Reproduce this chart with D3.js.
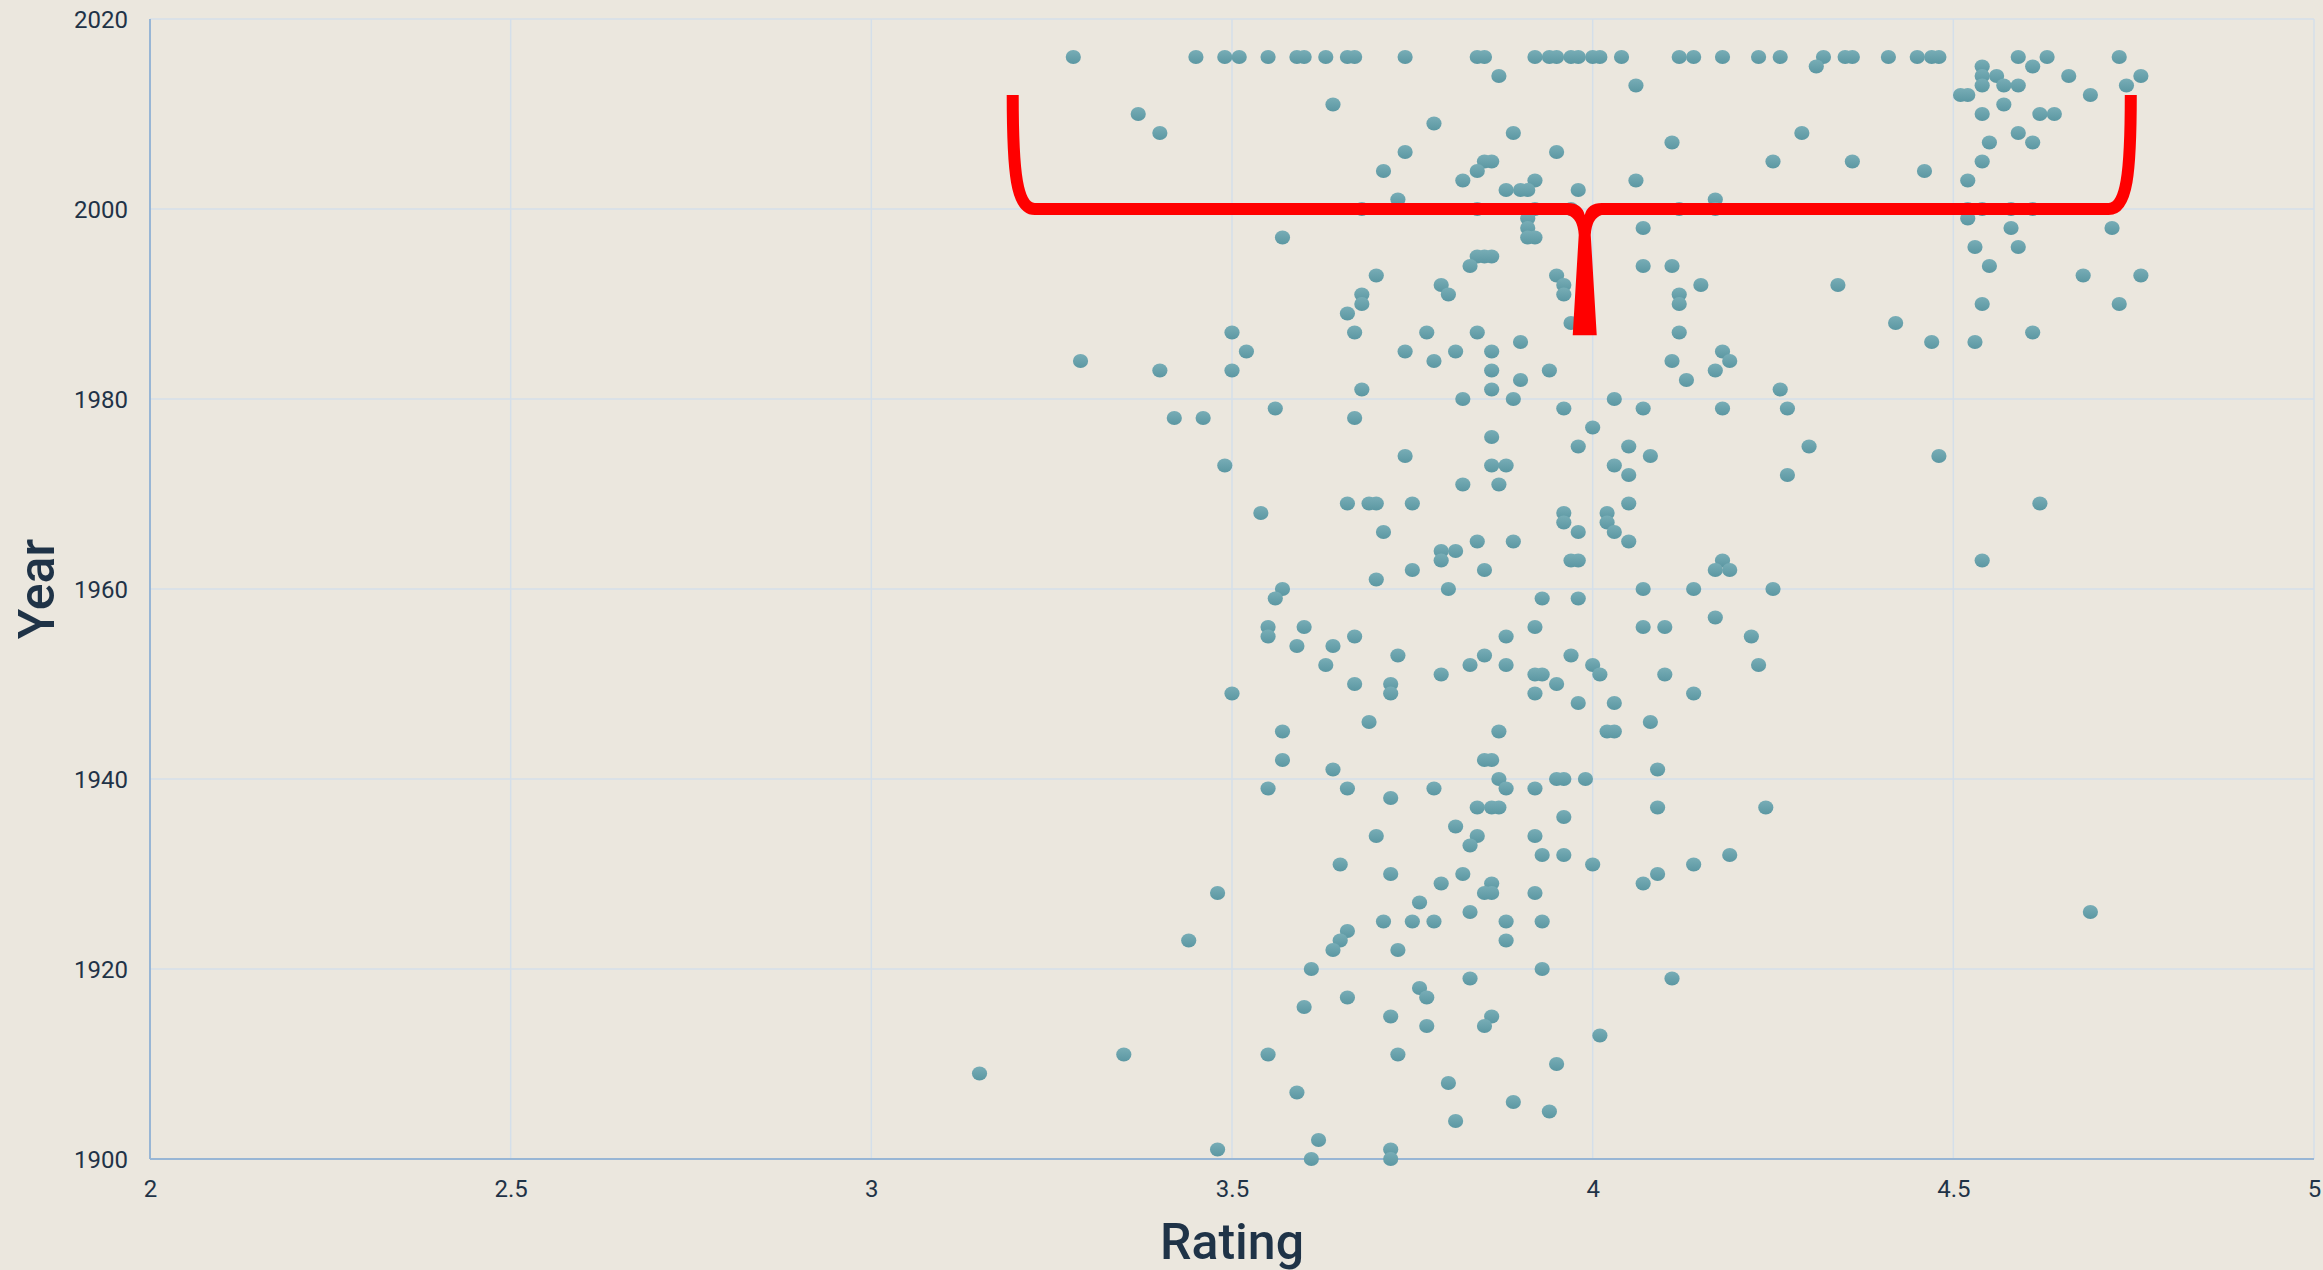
<!DOCTYPE html>
<html><head><meta charset="utf-8">
<script src="https://cdn.jsdelivr.net/npm/d3@7"></script>
<style>
html,body{margin:0;padding:0;background:#ebe7de;}
svg{display:block;}
</style></head><body>
<svg id="chart" width="2323" height="1270"></svg>
<script>
// ---- chart data ----
const xTicks = [2, 2.5, 3, 3.5, 4, 4.5, 5];
const yTicks = [1900, 1920, 1940, 1960, 1980, 2000, 2020];
const xLabel = "Rating";
const yLabel = "Year";

const pointYears = [2016,2015,2014,2013,2012,2011,2010,2009,2008,2007,2006,2005,2004,2003,2002,2001,2000,
  1999,1998,1997,1996,1995,1994,1993,1992,1991,1990,1989,1988,1987,1986,1985,1984,1983,1982,1981,1980,
  1979,1978,1977,1976,1975,1974,1973,1972,1971,1969,1968,1967,1966,1965,1964,1963,1962,1961,1960,
  1959,1957,1956,1955,1954,1953,1952,1951,1950,1949,1948,1946,1945,1942,1941,1940,
  1939,1938,1937,1936,1935,1934,1933,1932,1931,1930,1929,1928,1927,1926,1925,1924,1923,1922,1920,
  1919,1918,1917,1916,1915,1914,1913,1911,1910,1909,1908,1907,1906,1905,1904,1902,1901,1900];

const pointRatings = [
  [3.28,3.45,3.49,3.51,3.55,3.59,3.60,3.63,3.66,3.67,3.74,3.84,3.85,3.92,3.94,3.95,3.97,3.98,4.00,4.01,4.04,4.12,4.14,4.18,4.23,4.26,4.32,4.35,4.36,4.41,4.45,4.47,4.48,4.59,4.63,4.73],
  [4.31,4.54,4.61],
  [3.87,4.54,4.56,4.66,4.76],
  [4.06,4.54,4.57,4.59,4.74],
  [4.51,4.52,4.69],
  [3.64,4.57],
  [3.37,4.54,4.62,4.64],
  [3.78],
  [3.40,3.89,4.29,4.59],
  [4.11,4.55,4.61],
  [3.74,3.95],
  [3.85,3.86,4.25,4.36,4.54],
  [3.71,3.84,4.46],
  [3.82,3.92,4.06,4.52],
  [3.88,3.90,3.91,3.98],
  [3.73,4.17],
  [3.68,3.84,3.92,3.97,4.12,4.17,4.52,4.54,4.58,4.61],
  [3.91,4.52],
  [3.91,4.07,4.58,4.72],
  [3.57,3.91,3.92],
  [4.53,4.59],
  [3.84,3.85,3.86],
  [3.83,4.07,4.11,4.55],
  [3.70,3.95,4.68,4.76],
  [3.79,3.96,4.15,4.34],
  [3.68,3.80,3.96,4.12],
  [3.68,4.12,4.54,4.73],
  [3.66],
  [3.97,4.42],
  [3.50,3.67,3.77,3.84,4.12,4.61],
  [3.90,4.47,4.53],
  [3.52,3.74,3.81,3.86,4.18],
  [3.29,3.78,4.11,4.19],
  [3.40,3.50,3.86,3.94,4.17],
  [3.90,4.13],
  [3.68,3.86,4.26],
  [3.82,3.89,4.03],
  [3.56,3.96,4.07,4.18,4.27],
  [3.42,3.46,3.67],
  [4.00],
  [3.86],
  [3.98,4.05,4.30],
  [3.74,4.08,4.48],
  [3.49,3.86,3.88,4.03],
  [4.05,4.27],
  [3.82,3.87],
  [3.66,3.69,3.70,3.75,4.05,4.62],
  [3.54,3.96,4.02],
  [3.96,4.02],
  [3.71,3.98,4.03],
  [3.84,3.89,4.05],
  [3.79,3.81],
  [3.79,3.97,3.98,4.18,4.54],
  [3.75,3.85,4.17,4.19],
  [3.70],
  [3.57,3.80,4.07,4.14,4.25],
  [3.56,3.93,3.98],
  [4.17],
  [3.55,3.60,3.92,4.07,4.10],
  [3.55,3.67,3.88,4.22],
  [3.59,3.64],
  [3.73,3.85,3.97],
  [3.63,3.83,3.88,4.00,4.23],
  [3.79,3.92,3.93,4.01,4.10],
  [3.67,3.72,3.95],
  [3.50,3.72,3.92,4.14],
  [3.98,4.03],
  [3.69,4.08],
  [3.57,3.87,4.02,4.03],
  [3.57,3.85,3.86],
  [3.64,4.09],
  [3.87,3.95,3.96,3.99],
  [3.55,3.66,3.78,3.88,3.92],
  [3.72],
  [3.84,3.86,3.87,4.09,4.24],
  [3.96],
  [3.81],
  [3.70,3.84,3.92],
  [3.83],
  [3.93,3.96,4.19],
  [3.65,4.00,4.14],
  [3.72,3.82,4.09],
  [3.79,3.86,4.07],
  [3.48,3.85,3.86,3.92],
  [3.76],
  [3.83,4.69],
  [3.71,3.75,3.78,3.88,3.93],
  [3.66],
  [3.44,3.65,3.88],
  [3.64,3.73],
  [3.61,3.93],
  [3.83,4.11],
  [3.76],
  [3.66,3.77],
  [3.60],
  [3.72,3.86],
  [3.77,3.85],
  [4.01],
  [3.35,3.55,3.73],
  [3.95],
  [3.15],
  [3.80],
  [3.59],
  [3.89],
  [3.94],
  [3.81],
  [3.62],
  [3.48,3.72],
  [3.61,3.72]
];

// red brace annotation (data units)
const braceArmRatings = [3.196, 4.746];
const braceArmTopYear = 2012;
const braceLevelYear = 2000;
const braceTipRating = 3.989;
const braceTipYear = 1986.7;

// ---- drawing ----
const W = 2323, H = 1270;
const margin = {left: 150, right: 9, top: 19, bottom: 111};
const svg = d3.select("#chart");
const x = d3.scaleLinear().domain([2, 5]).range([margin.left, W - margin.right]);
const y = d3.scaleLinear().domain([1900, 2020]).range([H - margin.bottom, margin.top]);

const textColor = "#1f3347";
const gridColor = "#d4dfea";
const axisColor = "#98b6d5";

const defs = svg.append("defs");
const grad = defs.append("linearGradient").attr("id", "dotGrad")
  .attr("x1", "0").attr("y1", "0").attr("x2", "0").attr("y2", "1");
grad.append("stop").attr("offset", "0%").attr("stop-color", "#78adb6");
grad.append("stop").attr("offset", "100%").attr("stop-color", "#5b97a2");

// grid
svg.append("g").selectAll("line").data(xTicks).join("line")
  .attr("x1", d => x(d)).attr("x2", d => x(d))
  .attr("y1", y(2020)).attr("y2", y(1900))
  .attr("stroke", gridColor).attr("stroke-width", 1.5);
svg.append("g").selectAll("line").data(yTicks).join("line")
  .attr("x1", x(2)).attr("x2", x(5))
  .attr("y1", d => y(d)).attr("y2", d => y(d))
  .attr("stroke", gridColor).attr("stroke-width", 1.5);

// axes lines
svg.append("line").attr("x1", x(2)).attr("x2", x(2)).attr("y1", y(2020)).attr("y2", y(1900))
  .attr("stroke", axisColor).attr("stroke-width", 2);
svg.append("line").attr("x1", x(2)).attr("x2", x(5)).attr("y1", y(1900)).attr("y2", y(1900))
  .attr("stroke", axisColor).attr("stroke-width", 2);

// axes with d3 (labels only)
const xAxis = d3.axisBottom(x).tickValues(xTicks).tickSize(0).tickPadding(0).tickFormat(d3.format("~g"));
const gx = svg.append("g").attr("transform", `translate(0,${y(1900)})`).call(xAxis);
gx.select(".domain").remove();
gx.selectAll("text").attr("dy", null).attr("y", 38)
  .attr("font-family", "Roboto, 'Liberation Sans', sans-serif").attr("font-size", 24).attr("fill", textColor);

const yAxis = d3.axisLeft(y).tickValues(yTicks).tickSize(0).tickPadding(0).tickFormat(d3.format("d"));
const gy = svg.append("g").attr("transform", `translate(${x(2) - 22},0)`).call(yAxis);
gy.select(".domain").remove();
gy.selectAll("text").attr("dy", "0.35em")
  .attr("font-family", "Roboto, 'Liberation Sans', sans-serif").attr("font-size", 24).attr("fill", textColor);

// axis titles
svg.append("text").attr("x", (x(2) + x(5)) / 2).attr("y", 1259)
  .attr("text-anchor", "middle").attr("font-family", "Roboto, 'Liberation Sans', sans-serif")
  .attr("font-weight", 500).attr("font-size", 50).attr("fill", textColor).text(xLabel);
svg.append("text").attr("transform", `translate(54,${(y(1900) + y(2020)) / 2}) rotate(-90)`)
  .attr("text-anchor", "middle").attr("font-family", "Roboto, 'Liberation Sans', sans-serif")
  .attr("font-weight", 500).attr("font-size", 50).attr("fill", textColor).text(yLabel);

// points
const points = pointYears.flatMap((yr, i) => pointRatings[i].map(r => ({rating: r, year: yr})));
svg.append("g").selectAll("ellipse").data(points).join("ellipse")
  .attr("cx", d => x(d.rating)).attr("cy", d => y(d.year))
  .attr("rx", 7.6).attr("ry", 7)
  .attr("fill", "url(#dotGrad)");

// brace
const xa = x(braceArmRatings[0]), xb = x(braceArmRatings[1]);
const ya = y(braceArmTopYear), yl = y(braceLevelYear);
const xm = x(braceTipRating), yb = y(braceTipYear);
const bg = svg.append("g");
bg.append("path")
  .attr("d", `M${xa},${ya} C${xa},${yl - 35} ${xa + 4},${yl} ${xa + 22},${yl} L${xm - 26},${yl}`)
  .attr("fill", "none").attr("stroke", "#ff0000").attr("stroke-width", 12);
bg.append("path")
  .attr("d", `M${xb},${ya} C${xb},${yl - 35} ${xb - 4},${yl} ${xb - 22},${yl} L${xm + 26},${yl}`)
  .attr("fill", "none").attr("stroke", "#ff0000").attr("stroke-width", 12);
bg.append("path")
  .attr("d", `M${xm - 30},${yl - 6} L${xm - 17},${yl - 6} Q${xm - 3},${yl - 6} ${xm},${yl + 6}
    Q${xm + 3},${yl - 6} ${xm + 17},${yl - 6} L${xm + 30},${yl - 6} L${xm + 30},${yl + 6}
    L${xm + 17},${yl + 6} Q${xm + 7},${yl + 9} ${xm + 6},${yl + 26} L${xm + 12},${yb}
    L${xm - 12},${yb} L${xm - 6},${yl + 26} Q${xm - 7},${yl + 9} ${xm - 17},${yl + 6}
    L${xm - 30},${yl + 6} Z`)
  .attr("fill", "#ff0000");
</script>
</body></html>
